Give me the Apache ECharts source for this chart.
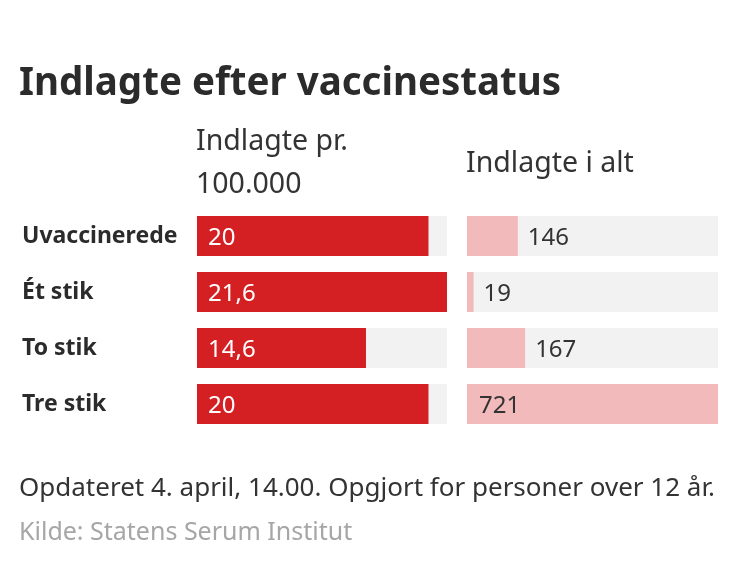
<!DOCTYPE html>
<html>
<head>
<meta charset="utf-8">
<script src="https://cdn.jsdelivr.net/npm/echarts@6/dist/echarts.min.js"></script>
<style>
  html, body { margin: 0; padding: 0; background: #fff; }
  #main { width: 750px; height: 566px; }
</style>
</head>
<body>
<div id="main"></div>
<script>
var categories = ['Uvaccinerede', 'Ét stik', 'To stik', 'Tre stik'];
var perHundredK = [20, 21.6, 14.6, 20];
var perHundredKLabels = ['20', '21,6', '14,6', '20'];
var totals = [146, 19, 167, 721];

var font = 'Noto Sans';
var chartDom = document.getElementById('main');
var myChart = echarts.init(chartDom);
var option;

var maxPer = Math.max.apply(null, perHundredK);
var maxTot = Math.max.apply(null, totals);

option = {
  backgroundColor: '#fff',
  animation: false,
  textStyle: { fontFamily: font },
  title: [
    {
      text: 'Indlagte efter vaccinestatus',
      left: 14,
      top: 60,
      textStyle: { fontSize: 38.5, fontWeight: 'bold', color: '#2b2b2b', fontFamily: font }
    },
    {
      text: 'Indlagte pr.\n100.000',
      left: 191,
      top: 115,
      textStyle: { fontSize: 28.5, fontWeight: 'normal', color: '#333', lineHeight: 43, fontFamily: font }
    },
    {
      text: 'Indlagte i alt',
      left: 461,
      top: 144,
      textStyle: { fontSize: 28.5, fontWeight: 'normal', color: '#333', fontFamily: font }
    },
    {
      text: 'Opdateret 4. april, 14.00. Opgjort for personer over 12 år.',
      left: 14,
      top: 471,
      textStyle: { fontSize: 26, fontWeight: 'normal', color: '#333', fontFamily: font }
    },
    {
      text: 'Kilde: Statens Serum Institut',
      left: 14,
      top: 515,
      textStyle: { fontSize: 25, fontWeight: 'normal', color: '#a6a6a6', fontFamily: font }
    }
  ],
  grid: [
    { left: 197, width: 250, top: 208, height: 224 },
    { left: 467, width: 251, top: 208, height: 224 }
  ],
  xAxis: [
    { gridIndex: 0, type: 'value', min: 0, max: maxPer, show: false },
    { gridIndex: 1, type: 'value', min: 0, max: maxTot, show: false }
  ],
  yAxis: [
    {
      gridIndex: 0,
      type: 'category',
      data: categories,
      inverse: true,
      axisLine: { show: false },
      axisTick: { show: false },
      axisLabel: {
        align: 'left',
        margin: 175,
        fontSize: 23,
        fontWeight: 'bold',
        color: '#2b2b2b',
        fontFamily: font
      }
    },
    {
      gridIndex: 1,
      type: 'category',
      data: categories,
      inverse: true,
      show: false
    }
  ],
  series: [
    {
      type: 'bar',
      xAxisIndex: 0,
      yAxisIndex: 0,
      barWidth: 40,
      data: perHundredK,
      itemStyle: { color: '#d42022' },
      showBackground: true,
      backgroundStyle: { color: '#f2f2f2' },
      label: {
        show: true,
        position: 'insideLeft',
        distance: 11,
        color: '#fff',
        fontSize: 24,
        fontFamily: font,
        offset: [0, 2],
        formatter: function (p) { return perHundredKLabels[p.dataIndex]; }
      }
    },
    {
      type: 'bar',
      xAxisIndex: 1,
      yAxisIndex: 1,
      barWidth: 40,
      data: totals.map(function (v) {
        return v === maxTot
          ? { value: v, label: { position: 'insideLeft', distance: 12 } }
          : v;
      }),
      itemStyle: { color: '#f2babb' },
      showBackground: true,
      backgroundStyle: { color: '#f2f2f2' },
      label: {
        show: true,
        position: 'right',
        distance: 10,
        color: '#333',
        fontSize: 24,
        fontFamily: font,
        offset: [0, 2]
      }
    }
  ]
};

option && myChart.setOption(option);
</script>
</body>
</html>
